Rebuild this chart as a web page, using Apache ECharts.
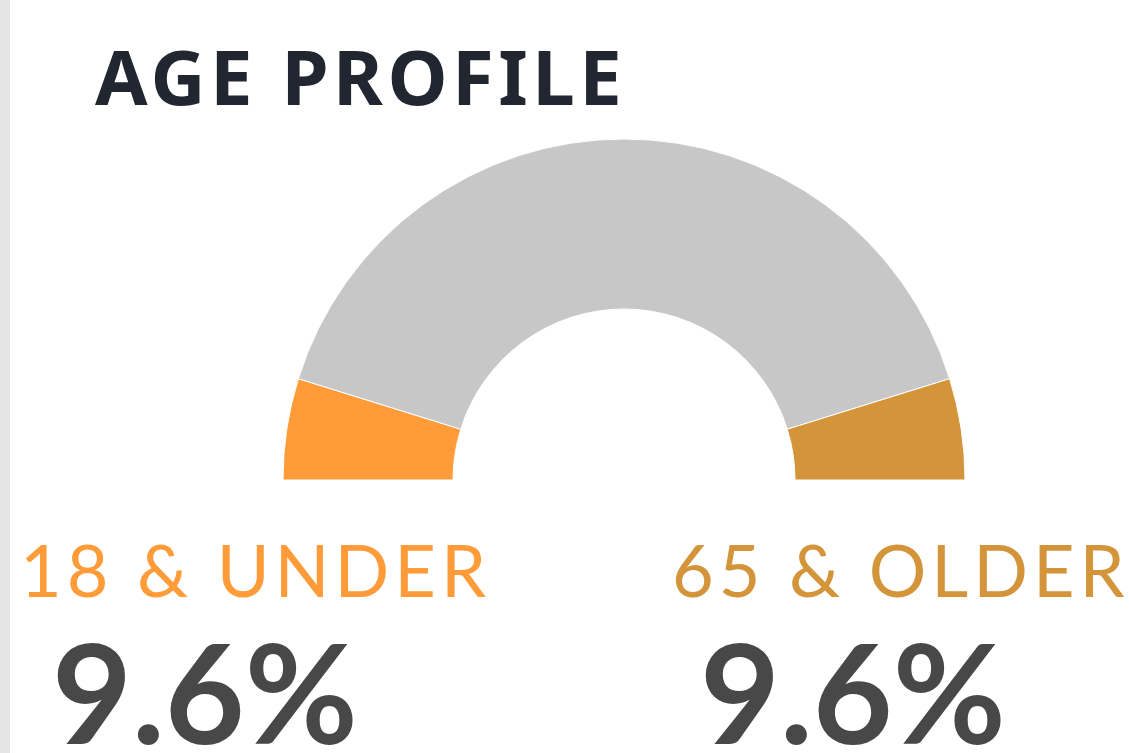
<!DOCTYPE html>
<html>
<head>
<meta charset="utf-8">
<title>Age Profile</title>
<script src="https://cdn.jsdelivr.net/npm/echarts@6/dist/echarts.min.js"></script>
<style>
  html, body { margin: 0; padding: 0; background: #fff; }
  #chart { width: 1129px; height: 753px; }
</style>
</head>
<body>
<div id="chart"></div>
<script>
(function () {
    'use strict';

    // Age groups, clockwise from the left end of the half ring.
    var groups = ['18 & UNDER', '19 TO 64', '65 & OLDER'];
    var shares = [9.6, 80.8, 9.6];
    var colors = ['#FF9B39', '#C7C7C7', '#D3943A'];
    var titleText = 'AGE PROFILE';

    // Letter spacing per text (svg renderer, applied after render).
    var SPACING = {};
    SPACING[titleText] = '4.5px';
    SPACING[groups[0]] = '5px';
    SPACING[groups[2]] = '5px';

    var chart = echarts.init(document.getElementById('chart'), null, { renderer: 'svg' });

    function pct(v) { return v.toFixed(1) + '%'; }

    var option = {
        animation: false,
        series: [{
            type: 'pie',
            center: [624, 480],
            radius: [171, 341],
            startAngle: 180,
            endAngle: 0,
            silent: true,
            label: { show: false },
            labelLine: { show: false },
            itemStyle: { borderColor: '#fff', borderWidth: 1 },
            data: groups.map(function (g, i) {
                return { name: g, value: shares[i], itemStyle: { color: colors[i] } };
            })
        }],
        graphic: [
            { type: 'rect', shape: { x: 0, y: 0, width: 10, height: 753 }, style: { fill: '#E5E5E5' } },
            {
                type: 'text', x: 95, y: 75,
                style: { text: titleText, fill: '#222630', font: 'bold 76px "Noto Sans"', verticalAlign: 'middle' }
            },
            {
                type: 'text', x: 20, y: 569,
                style: { text: groups[0], fill: colors[0], font: '72px Lato', verticalAlign: 'middle' }
            },
            {
                type: 'text', x: 672, y: 569,
                style: { text: groups[2], fill: colors[2], font: '72px Lato', verticalAlign: 'middle' }
            },
            {
                type: 'text', x: 52, y: 690,
                style: { text: pct(shares[0]), fill: '#484848', font: 'bold 138px Lato', verticalAlign: 'middle' }
            },
            {
                type: 'text', x: 700, y: 690,
                style: { text: pct(shares[2]), fill: '#484848', font: 'bold 138px Lato', verticalAlign: 'middle' }
            }
        ]
    };

    chart.setOption(option);

    function applySpacing() {
        var ts = document.querySelectorAll('#chart svg text');
        for (var i = 0; i < ts.length; i++) {
            var s = SPACING[ts[i].textContent];
            if (s) ts[i].style.letterSpacing = s;
        }
    }
    applySpacing();
    chart.on('finished', applySpacing);
})();
</script>
</body>
</html>
